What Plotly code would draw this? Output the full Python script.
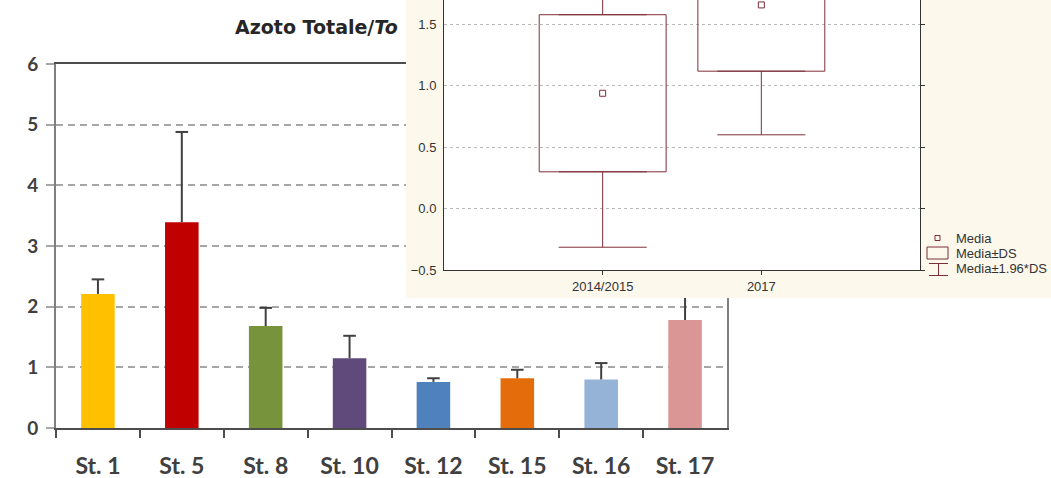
import plotly.graph_objects as go

# ---- data: bar chart (Azoto Totale per stazione) ----
stations = ["St. 1", "St. 5", "St. 8", "St. 10", "St. 12", "St. 15", "St. 16", "St. 17"]
azoto_mean = [2.21, 3.39, 1.68, 1.15, 0.76, 0.82, 0.80, 1.78]
azoto_err = [0.24, 1.49, 0.30, 0.37, 0.06, 0.14, 0.27, 0.60]
bar_colors = ["#FFC000", "#C00000", "#77933C", "#604A7B", "#4F81BD", "#E46C0A", "#95B3D7", "#D99694"]

# ---- data: inset (Media, DS) ----
periods = ["2014/2015", "2017"]
media = [0.94, 1.66]
ds = [0.64, 0.54]
inset_yticks = [-0.5, 0.0, 0.5, 1.0, 1.5]

W, H = 1051, 478
def px(x):
    return x / W
def py(y):
    return (H - y) / H

MAROON = "#7E2E38"
CREAM = "#FCF8EC"
DARK = "#404040"

fig = go.Figure()

# bar chart
fig.add_trace(go.Bar(
    x=stations, y=azoto_mean, width=0.4,
    marker=dict(color=bar_colors, line=dict(width=0)),
    error_y=dict(type="data", symmetric=False, array=azoto_err,
                 arrayminus=[0] * len(azoto_err), width=0, thickness=2, color=DARK),
    xaxis="x", yaxis="y", showlegend=False, hoverinfo="x+y"))
cap_y = [m + e for m, e in zip(azoto_mean, azoto_err)]
fig.add_trace(go.Scatter(
    x=stations, y=cap_y, mode="markers",
    marker=dict(symbol="line-ew", size=9, line=dict(width=2, color=DARK)),
    xaxis="x", yaxis="y", showlegend=False, hoverinfo="skip"))

# cream background subplot (dummy)
fig.add_trace(go.Scatter(x=[None], y=[None], xaxis="x2", yaxis="y2",
                         showlegend=False, hoverinfo="skip"))

# inset: boxes (Media ± DS)
box_base = [m - s for m, s in zip(media, ds)]
box_h = [2 * s for s in ds]
fig.add_trace(go.Bar(
    x=periods, y=box_h, base=box_base, width=0.8,
    marker=dict(color="rgba(0,0,0,0)", line=dict(color=MAROON, width=1)),
    xaxis="x3", yaxis="y3", showlegend=False, hoverinfo="skip"))

# whiskers (Media ± 1.96*DS)
upper_edge = [m + s for m, s in zip(media, ds)]
whisk_len = [(m + 1.96 * s) - (m + s) for m, s in zip(media, ds)]
lower_edge = [m - s for m, s in zip(media, ds)]
fig.add_trace(go.Scatter(
    x=periods, y=upper_edge, mode="markers",
    marker=dict(size=1, color="rgba(0,0,0,0)"),
    error_y=dict(type="data", symmetric=False, array=whisk_len, arrayminus=[0] * len(ds),
                 width=44, thickness=1, color=MAROON),
    xaxis="x3", yaxis="y3", showlegend=False, hoverinfo="skip"))
fig.add_trace(go.Scatter(
    x=periods, y=lower_edge, mode="markers",
    marker=dict(size=1, color="rgba(0,0,0,0)"),
    error_y=dict(type="data", symmetric=False, array=[0] * len(ds), arrayminus=whisk_len,
                 width=44, thickness=1, color=MAROON),
    xaxis="x3", yaxis="y3", showlegend=False, hoverinfo="skip"))

# mean markers
fig.add_trace(go.Scatter(
    x=periods, y=media, mode="markers",
    marker=dict(symbol="square-open", size=6, color=MAROON, line=dict(width=1, color=MAROON)),
    xaxis="x3", yaxis="y3", showlegend=False))

# dummy for right-side tick axis of inset
fig.add_trace(go.Scatter(x=[None], y=[None], xaxis="x3", yaxis="y4",
                         showlegend=False, hoverinfo="skip"))

shapes = [
    dict(type="rect", xref="x2", yref="y2", x0=0, x1=1, y0=0, y1=1,
         fillcolor=CREAM, line=dict(width=0), layer="below"),
    dict(type="rect", xref="x3", yref="y3", x0=-1, x1=2, y0=-0.5, y1=1.70,
         fillcolor="white", line=dict(width=0), layer="below"),
    # legend keys of the inset
    dict(type="rect", xref="paper", yref="paper", x0=px(935), x1=px(940), y0=py(240.5), y1=py(235.5),
         line=dict(color=MAROON, width=1), fillcolor="rgba(0,0,0,0)", layer="above"),
    dict(type="rect", xref="paper", yref="paper", x0=px(927), x1=px(948), y0=py(259), y1=py(247),
         line=dict(color=MAROON, width=1), fillcolor="rgba(0,0,0,0)", layer="above"),
    dict(type="line", xref="paper", yref="paper", x0=px(929), x1=px(948), y0=py(263.5), y1=py(263.5),
         line=dict(color=MAROON, width=1), layer="above"),
    dict(type="line", xref="paper", yref="paper", x0=px(929), x1=px(948), y0=py(275.5), y1=py(275.5),
         line=dict(color=MAROON, width=1), layer="above"),
    dict(type="line", xref="paper", yref="paper", x0=px(938.5), x1=px(938.5), y0=py(263.5), y1=py(275.5),
         line=dict(color=MAROON, width=1), layer="above"),
]

legend_font = dict(family="Liberation Sans, Arial", size=13, color="#333333")
annotations = [
    dict(text="<b>Azoto Totale/<i>To</i></b>", xref="paper", yref="paper", x=px(233), y=py(27),
         xanchor="left", yanchor="middle", showarrow=False,
         font=dict(family="DejaVu Sans", size=19, color="#262626")),
    dict(text="Media", xref="paper", yref="paper", x=px(954), y=py(238), xanchor="left",
         yanchor="middle", showarrow=False, font=legend_font),
    dict(text="Media±DS", xref="paper", yref="paper", x=px(954), y=py(253), xanchor="left",
         yanchor="middle", showarrow=False, font=legend_font),
    dict(text="Media±1.96*DS", xref="paper", yref="paper", x=px(954), y=py(268), xanchor="left",
         yanchor="middle", showarrow=False, font=legend_font),
]

fig.update_layout(
    width=W, height=H,
    margin=dict(l=0, r=0, t=0, b=0, pad=0, autoexpand=False),
    paper_bgcolor="white", plot_bgcolor="white",
    showlegend=False,
    bargap=0.2,
    shapes=shapes,
    annotations=annotations,
    xaxis=dict(domain=[px(56), px(727)], anchor="y", type="category", range=[-0.5, 7.5],
               tickson="boundaries", ticks="outside", ticklen=8, tickwidth=2, tickcolor="#4d4d4d",
               showline=True, linecolor="#4d4d4d", linewidth=2, mirror=True, showgrid=False,
               ticklabelstandoff=16, automargin=False,
               tickfont=dict(family="Lato", size=23, color=DARK, weight="bold")),
    yaxis=dict(domain=[py(428), py(64)], anchor="x", range=[0, 6], dtick=1,
               showgrid=True, gridcolor="#a6a6a6", gridwidth=2, griddash="7px,5px",
               ticks="outside", ticklen=8, tickwidth=2, tickcolor="#a6a6a6",
               showline=True, linecolor="#7f7f7f", linewidth=2, mirror=True, zeroline=False,
               ticklabelstandoff=4, automargin=False,
               tickfont=dict(family="Lato", size=19, color=DARK, weight="bold")),
    xaxis2=dict(domain=[px(406), 1.0], anchor="y2", range=[0, 1], visible=False, automargin=False),
    yaxis2=dict(domain=[py(298), 1.0], anchor="x2", range=[0, 1], visible=False, automargin=False),
    xaxis3=dict(domain=[px(444), px(920)], anchor="y3", type="category", range=[-1, 2],
                ticks="outside", ticklen=4, tickcolor="#333333", automargin=False,
                showline=True, linecolor="#333333", linewidth=1, showgrid=False, zeroline=False,
                tickfont=dict(family="Liberation Sans, Arial", size=13, color="#333333")),
    yaxis3=dict(domain=[py(270), 1.0], anchor="x3", range=[-0.5, 1.70],
                tickvals=inset_yticks, tickformat=".1f", automargin=False,
                showgrid=True, gridcolor="#b8b8b8", gridwidth=1, griddash="dot",
                ticks="", showline=True, linecolor="#333333", linewidth=1, zeroline=False,
                ticklabelstandoff=4,
                tickfont=dict(family="Liberation Sans, Arial", size=13, color="#333333")),
    yaxis4=dict(overlaying="y3", side="right", anchor="x3", range=[-0.5, 1.70],
                tickvals=inset_yticks, showticklabels=False, ticks="outside", ticklen=4,
                tickcolor="#333333", showline=True, linecolor="#333333", linewidth=1,
                showgrid=False, zeroline=False, automargin=False),
)

fig.write_html("out.html", config={"displayModeBar": False},
               post_script="document.body.style.margin='0';")
